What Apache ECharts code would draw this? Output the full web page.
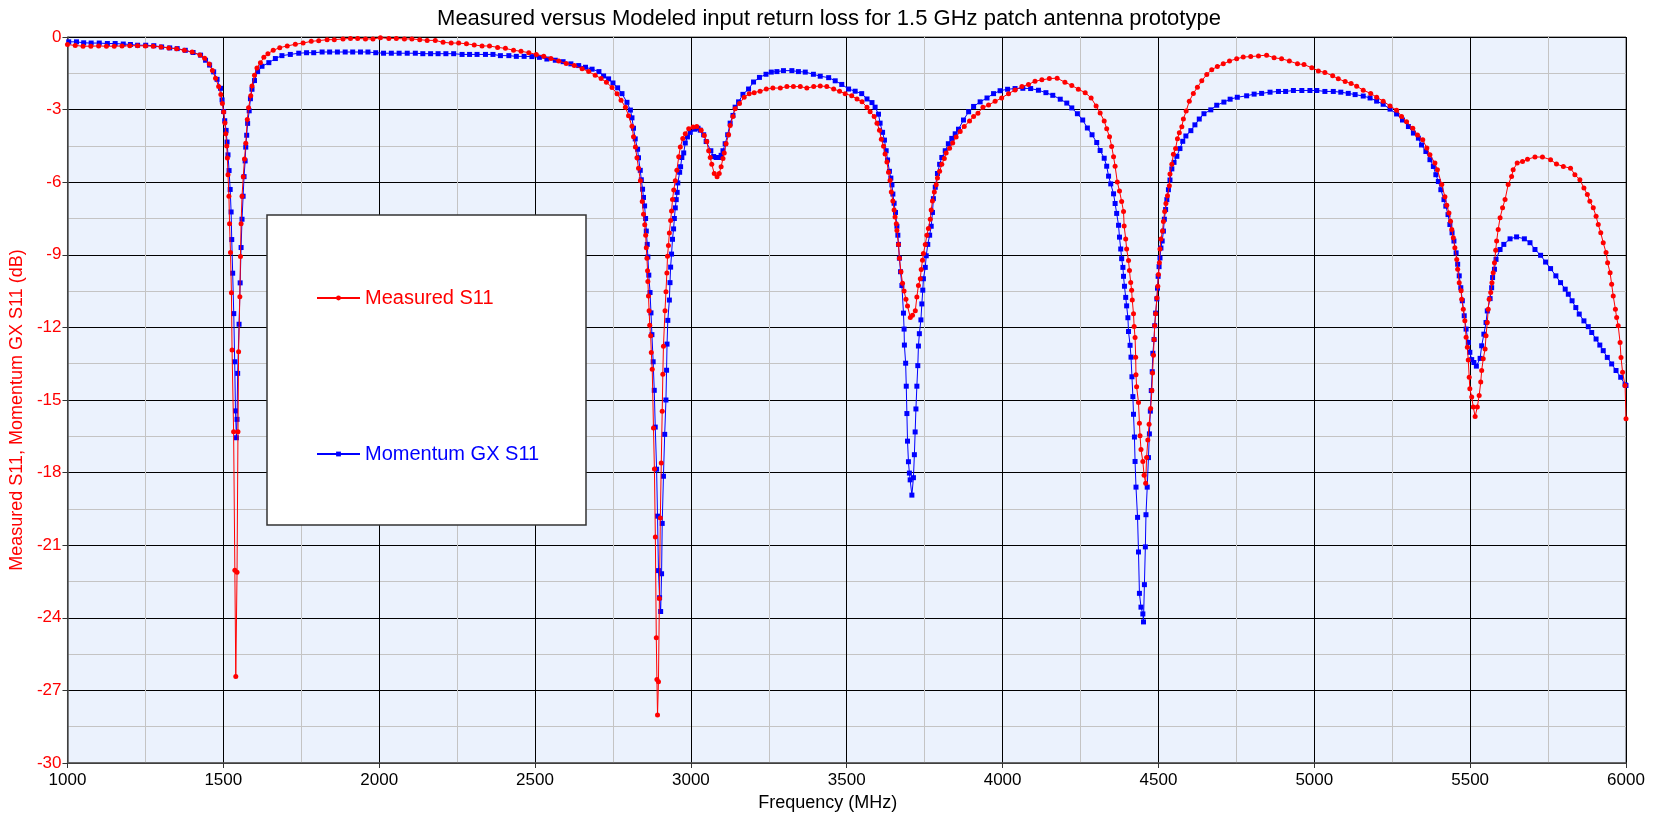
<!DOCTYPE html>
<html>
<head>
<meta charset="utf-8">
<script src="https://cdn.jsdelivr.net/npm/echarts@6/dist/echarts.min.js"></script>
<style>
html,body{margin:0;padding:0;background:#fff;}
#chart{width:1658px;height:817px;}
</style>
</head>
<body>
<div id="chart"></div>
<script>
// ---------- DATA ----------
const titleText = 'Measured versus Modeled input return loss for 1.5 GHz patch antenna prototype';
const xAxisName = 'Frequency (MHz)';
const yAxisName = 'Measured S11, Momentum GX S11 (dB)';
const seriesNames = ['Measured S11', 'Momentum GX S11'];

const measuredFreq = [
1000,1025,1050,1075,1100,1125,1150,1175,1200,1225,1250,1275,1300,1325,1350,1375,1400,1425,1440,1455,
1465,1475,1485,1492,1497,1501,1505,1508,1511,1513,1515,1518,1520,1523,1526,1528,1533,1537,1540,1544,
1547,1549,1553,1555,1557,1560,1564,1568,1572,1577,1581,1588,1592,1600,1608,1619,1630,1643,1660,1681,
1705,1731,1756,1782,1806,1833,1856,1884,1908,1931,1956,1980,2004,2031,2055,2081,2105,2130,2154,2180,
2205,2231,2255,2280,2305,2330,2354,2380,2405,2431,2455,2480,2504,2528,2551,2576,2600,2626,2651,2672,
2693,2712,2729,2747,2763,2776,2790,2800,2811,2816,2822,2827,2832,2838,2844,2848,2852,2855,2857,2859,
2861,2862,2864,2866,2868,2871,2873,2876,2880,2883,2886,2889,2891,2893,2896,2899,2902,2905,2908,2910,
2912,2917,2920,2923,2925,2928,2931,2935,2938,2941,2945,2950,2955,2961,2966,2974,2982,2993,3007,3019,
3033,3043,3051,3057,3062,3067,3075,3084,3091,3097,3103,3107,3113,3121,3126,3135,3142,3156,3171,3187,
3203,3222,3242,3263,3287,3308,3329,3351,3372,3394,3415,3436,3458,3477,3495,3516,3533,3549,3565,3575,
3588,3597,3605,3611,3618,3623,3629,3634,3639,3643,3648,3652,3655,3659,3661,3666,3669,3674,3679,3684,
3690,3695,3704,3711,3720,3725,3730,3736,3739,3743,3746,3752,3757,3762,3768,3771,3775,3781,3787,3791,
3798,3805,3813,3819,3830,3840,3851,3864,3877,3894,3907,3921,3937,3955,3976,3997,4019,4040,4062,4083,
4104,4126,4150,4175,4200,4222,4243,4265,4284,4300,4313,4326,4334,4343,4350,4356,4361,4368,4375,4382,
4388,4390,4395,4398,4404,4407,4411,4414,4416,4420,4422,4425,4427,4428,4430,4436,4439,4441,4444,4450,
4454,4459,4462,4466,4470,4475,4479,4481,4484,4486,4488,4491,4495,4498,4500,4503,4505,4508,4513,4516,
4520,4524,4529,4535,4537,4543,4548,4555,4561,4567,4575,4580,4589,4599,4612,4625,4639,4655,4671,4689,
4708,4728,4751,4772,4796,4821,4847,4871,4895,4920,4946,4967,4992,5013,5034,5059,5077,5099,5118,5136,
5157,5181,5200,5221,5243,5264,5280,5296,5316,5331,5348,5361,5371,5387,5395,5409,5419,5425,5432,5437,
5441,5446,5451,5457,5460,5465,5471,5473,5478,5483,5487,5491,5494,5497,5499,5505,5510,5516,5523,5529,
5534,5537,5542,5548,5551,5555,5558,5561,5566,5570,5574,5578,5582,5585,5590,5596,5604,5612,5622,5633,
5638,5651,5668,5684,5708,5732,5758,5777,5799,5822,5836,5852,5865,5876,5884,5895,5904,5911,5919,5927,
5936,5941,5949,5954,5959,5966,5970,5975,5981,5984,5989,5997,6000
];
const measuredDb = [
-0.31,-0.35,-0.38,-0.38,-0.37,-0.38,-0.38,-0.37,-0.36,-0.36,-0.37,-0.38,-0.41,-0.45,-0.49,-0.55,-0.62,-0.74,-0.88,-1.12,
-1.38,-1.70,-2.05,-2.38,-2.75,-3.10,-3.55,-4.00,-4.50,-5.00,-5.69,-6.58,-7.72,-8.91,-10.57,-12.93,-16.31,-22.04,-26.43,-22.12,
-16.31,-13.01,-10.73,-9.07,-7.72,-6.58,-5.77,-5.04,-4.39,-3.41,-2.92,-2.43,-2.02,-1.58,-1.28,-1.06,-0.84,-0.69,-0.55,-0.44,
-0.37,-0.30,-0.25,-0.18,-0.15,-0.11,-0.11,-0.08,-0.06,-0.06,-0.08,-0.08,-0.03,-0.06,-0.06,-0.08,-0.08,-0.11,-0.14,-0.14,
-0.22,-0.25,-0.25,-0.28,-0.33,-0.37,-0.37,-0.43,-0.47,-0.55,-0.59,-0.65,-0.72,-0.80,-0.89,-0.99,-1.09,-1.18,-1.31,-1.43,
-1.58,-1.72,-1.87,-2.09,-2.34,-2.61,-2.90,-3.25,-3.69,-4.12,-4.55,-4.99,-5.42,-5.94,-6.80,-7.32,-7.76,-8.19,-8.71,-9.14,
-9.66,-10.10,-10.70,-11.31,-11.91,-12.35,-13.04,-13.73,-16.16,-17.85,-20.66,-24.82,-26.55,-28.02,-26.64,-23.20,-19.88,-17.60,-15.46,-13.94,
-12.78,-11.31,-10.53,-9.75,-9.06,-8.62,-8.10,-7.58,-7.19,-6.72,-6.32,-5.94,-5.51,-4.95,-4.55,-4.19,-4.00,-3.79,-3.72,-3.70,
-3.85,-4.07,-4.32,-4.70,-4.98,-5.26,-5.64,-5.77,-5.64,-5.36,-5.02,-4.79,-4.41,-4.04,-3.66,-3.28,-2.96,-2.75,-2.49,-2.34,
-2.30,-2.24,-2.15,-2.11,-2.11,-2.05,-2.05,-2.05,-2.11,-2.05,-2.02,-2.05,-2.15,-2.24,-2.34,-2.43,-2.56,-2.68,-2.90,-3.09,
-3.28,-3.56,-3.85,-4.23,-4.51,-4.83,-5.17,-5.59,-5.93,-6.40,-6.78,-7.15,-7.44,-7.72,-8.00,-8.57,-9.14,-9.70,-10.18,-10.50,
-10.84,-11.12,-11.59,-11.50,-11.31,-10.74,-10.27,-9.99,-9.61,-9.23,-8.95,-8.57,-8.19,-7.91,-7.53,-7.15,-6.78,-6.40,-6.11,-5.83,
-5.55,-5.26,-5.02,-4.79,-4.60,-4.38,-4.13,-3.90,-3.70,-3.47,-3.28,-3.15,-2.90,-2.81,-2.66,-2.52,-2.34,-2.19,-2.05,-1.96,
-1.83,-1.77,-1.72,-1.70,-1.87,-2.00,-2.16,-2.30,-2.52,-2.85,-3.14,-3.47,-3.79,-4.12,-4.52,-4.95,-5.34,-5.99,-6.36,-6.80,
-7.21,-7.81,-8.35,-8.76,-9.24,-9.65,-10.14,-10.46,-10.87,-11.44,-11.96,-12.42,-13.23,-13.96,-14.45,-15.10,-15.96,-16.48,-17.05,-17.54,
-18.11,-18.44,-17.38,-16.65,-16.00,-15.35,-14.61,-13.88,-13.15,-12.50,-11.93,-11.44,-10.79,-10.30,-9.81,-9.33,-8.76,-8.35,-8.02,-7.62,
-7.21,-6.88,-6.56,-6.15,-5.66,-5.26,-4.85,-4.61,-4.20,-3.96,-3.71,-3.39,-3.06,-2.65,-2.33,-2.08,-1.81,-1.55,-1.35,-1.22,
-1.11,-0.99,-0.90,-0.83,-0.81,-0.78,-0.75,-0.86,-0.90,-0.99,-1.11,-1.14,-1.27,-1.40,-1.47,-1.60,-1.73,-1.84,-1.92,-2.03,
-2.20,-2.33,-2.49,-2.65,-2.85,-3.03,-3.28,-3.50,-3.77,-4.05,-4.25,-4.59,-4.87,-5.21,-5.49,-6.10,-6.60,-6.95,-7.27,-7.61,
-7.95,-8.30,-8.71,-9.19,-9.60,-10.15,-10.49,-10.84,-11.25,-11.73,-12.41,-12.82,-13.35,-14.06,-14.54,-14.88,-15.29,-15.68,-15.29,-14.81,
-14.26,-13.78,-13.30,-12.89,-12.34,-11.80,-11.25,-10.84,-10.56,-10.15,-9.74,-9.33,-8.81,-8.43,-7.95,-7.47,-7.06,-6.72,-6.10,-5.76,
-5.49,-5.21,-5.14,-5.05,-4.96,-4.96,-5.07,-5.25,-5.35,-5.42,-5.69,-5.90,-6.24,-6.51,-6.79,-7.06,-7.41,-7.75,-8.09,-8.50,
-8.91,-9.33,-9.74,-10.22,-10.70,-11.25,-11.59,-11.93,-12.62,-13.24,-13.85,-14.40,-15.77
];

const modelFreq = [
1004,1029,1052,1076,1102,1128,1153,1179,1202,1225,1251,1277,1302,1328,1352,1378,1403,1427,1443,1456,
1469,1480,1491,1496,1501,1504.5,1509,1512,1515,1518.5,1522,1525,1527,1530,1533.5,1536.5,1539,1542,1544,1546,
1550.5,1554,1557,1560,1563.5,1566.5,1570,1572,1575,1578,1583,1587,1592,1600,1610,1624,1646,1667,1688,1715,
1742,1767,1790,1817,1841,1866,1891,1915,1940,1964,1989,2014,2039,2064,2090,2116,2140,2165,2189,2214,
2239,2266,2290,2314,2341,2365,2389,2416,2440,2465,2490,2514,2538,2565,2590,2615,2640,2662,2683,2705,
2720,2736,2750,2765,2779,2795,2806,2811,2816,2821.5,2829,2832,2837.6,2841,2845,2848,2851.5,2854.7,2857,2860,
2862,2865,2869,2872,2875,2879,2882.5,2885.7,2890,2893,2896,2899.6,2903,2906,2908,2912,2916,2920,2922,2923.5,
2926,2931,2933,2935,2938,2941,2944.5,2947,2950,2953,2956,2958,2964,2967,2971,2977,2982,2989,2998,3012,
3023,3030,3041,3049,3064,3073,3081,3089,3097,3103,3110,3118,3126,3135,3142,3153,3167,3185,3201,3220,
3241,3258,3276,3297,3324,3345,3367,3393,3415,3442,3463,3484,3506,3527,3548,3565,3581,3591,3602,3607,
3615,3621,3626.5,3631,3637,3641.5,3645,3648,3652,3656.5,3661,3664,3666,3669,3672.5,3677,3682,3684,3685,3689,
3691,3693,3695,3698,3701,3703.5,3709,3714,3717,3719.5,3722,3725,3728,3730,3733,3738,3741,3744,3746,3752,
3755,3760,3766,3771,3775,3778,3784,3791,3798,3805,3816,3826,3837,3848,3858.5,3874.5,3891,3907,3928,3950,
3971,3992,4016,4040,4065,4090,4115,4139,4161,4185,4206,4222,4240,4257,4272,4287,4302,4313,4326,4334,
4340,4347,4356,4361,4366,4372,4375,4379,4382,4386,4388,4391,4395,4398,4402,4404,4409,4412,4415,4418,
4420,4423,4425,4428,4433,4436,4439,4444,4450,4452,4455,4458,4460,4464,4468,4471,4474,4477,4480,4482,
4486,4488,4491,4495,4497,4499,4502,4505,4508,4512,4516,4519,4523,4527,4532,4537,4543,4550,4559,4569,
4578,4588,4604,4617,4631,4646,4668,4687,4710,4730,4753,4783,4807,4831,4858,4885,4908,4933,4960,4986,
5008,5034,5061,5085,5109,5131,5157,5179,5200,5221,5243,5264,5283,5302,5318,5334,5344,5358,5371,5382,
5390,5398,5406,5416,5422,5429,5435,5442,5448,5455,5460,5465,5470,5475,5481,5487,5494,5499,5505,5512,
5520,5532,5537,5544,5551,5555,5564,5569,5572,5578,5583,5596,5608,5628,5649,5674,5692,5708,5726,5742,
5758,5775,5790,5805,5815,5827,5839,5850,5865,5879,5890,5904,5916,5927,5940,5954,5968,5983,5997,6000
];
const modelDb = [
-0.20,-0.20,-0.24,-0.25,-0.25,-0.27,-0.27,-0.29,-0.31,-0.34,-0.34,-0.36,-0.41,-0.45,-0.48,-0.55,-0.64,-0.75,-0.96,-1.16,
-1.44,-1.75,-2.12,-2.60,-3.08,-3.46,-3.86,-4.34,-4.87,-5.52,-6.30,-7.23,-8.37,-9.76,-11.43,-13.42,-15.45,-16.56,-15.80,-13.90,
-11.87,-10.16,-8.70,-7.53,-6.58,-5.77,-5.12,-4.55,-4.06,-3.57,-3.05,-2.55,-2.16,-1.80,-1.43,-1.21,-1.06,-0.89,-0.77,-0.72,
-0.67,-0.65,-0.65,-0.62,-0.62,-0.62,-0.62,-0.62,-0.62,-0.62,-0.65,-0.67,-0.67,-0.67,-0.67,-0.67,-0.69,-0.69,-0.69,-0.69,
-0.69,-0.72,-0.72,-0.72,-0.72,-0.72,-0.77,-0.77,-0.80,-0.80,-0.81,-0.84,-0.91,-0.96,-1.02,-1.11,-1.18,-1.25,-1.33,-1.43,
-1.61,-1.73,-1.90,-2.10,-2.34,-2.70,-3.02,-3.34,-3.77,-4.21,-4.64,-4.99,-5.51,-5.90,-6.29,-6.63,-6.98,-7.50,-8.02,-8.57,
-9.09,-9.84,-10.56,-11.40,-12.30,-13.42,-14.60,-16.12,-17.86,-19.80,-22.05,-23.17,-23.74,-22.18,-20.10,-18.15,-16.42,-15.00,-13.77,-12.69,
-11.71,-10.87,-10.15,-9.51,-8.97,-8.36,-7.93,-7.50,-7.06,-6.72,-6.42,-6.03,-5.59,-5.36,-4.98,-4.79,-4.38,-4.13,-3.94,-3.81,
-3.77,-3.85,-4.04,-4.32,-4.70,-4.94,-4.98,-4.98,-4.89,-4.70,-4.41,-4.04,-3.56,-3.24,-2.90,-2.68,-2.37,-2.15,-1.86,-1.67,
-1.54,-1.45,-1.43,-1.39,-1.39,-1.43,-1.45,-1.54,-1.62,-1.68,-1.81,-1.96,-2.15,-2.24,-2.34,-2.56,-2.71,-2.90,-3.19,-3.56,
-3.94,-4.26,-4.70,-5.08,-5.55,-5.83,-6.11,-6.49,-6.87,-7.25,-7.82,-8.19,-8.57,-9.14,-9.70,-10.27,-11.41,-12.07,-12.73,-13.48,
-14.43,-15.56,-16.70,-17.55,-18.02,-18.30,-18.93,-18.21,-17.26,-16.32,-15.37,-14.43,-13.58,-12.77,-12.26,-11.69,-11.03,-10.46,-9.99,-9.52,
-9.04,-8.57,-8.19,-7.82,-7.25,-6.68,-6.21,-5.64,-5.26,-4.98,-4.70,-4.41,-4.19,-4.00,-3.81,-3.43,-3.09,-2.87,-2.68,-2.52,
-2.34,-2.22,-2.16,-2.13,-2.12,-2.13,-2.20,-2.30,-2.41,-2.57,-2.73,-2.93,-3.17,-3.43,-3.76,-4.04,-4.36,-4.69,-5.01,-5.34,
-5.75,-6.07,-6.48,-6.88,-7.29,-7.78,-8.27,-8.76,-9.16,-9.52,-9.89,-10.30,-10.76,-11.11,-11.60,-12.17,-12.74,-13.23,-14.04,-14.86,
-15.59,-16.53,-17.54,-18.60,-19.85,-21.28,-22.99,-23.56,-23.84,-24.17,-22.63,-21.07,-19.74,-18.60,-17.38,-16.40,-15.46,-14.61,-13.83,-13.07,
-12.50,-11.93,-11.41,-10.82,-10.38,-9.89,-9.49,-9.13,-8.72,-8.43,-8.02,-7.53,-7.13,-6.72,-6.31,-5.91,-5.45,-5.18,-4.93,-4.61,
-4.31,-4.09,-3.87,-3.63,-3.39,-3.17,-3.01,-2.82,-2.69,-2.57,-2.49,-2.43,-2.36,-2.33,-2.28,-2.25,-2.25,-2.21,-2.21,-2.21,
-2.21,-2.25,-2.25,-2.28,-2.33,-2.38,-2.44,-2.52,-2.65,-2.78,-2.98,-3.18,-3.43,-3.70,-3.97,-4.18,-4.46,-4.73,-5.07,-5.35,
-5.69,-5.97,-6.31,-6.72,-6.99,-7.34,-7.75,-8.09,-8.43,-8.92,-9.39,-9.87,-10.36,-10.90,-11.52,-12.07,-12.62,-13.03,-13.33,-13.45,
-13.60,-13.28,-12.76,-12.28,-11.80,-11.32,-10.81,-10.36,-9.94,-9.60,-9.19,-8.78,-8.57,-8.34,-8.26,-8.34,-8.50,-8.78,-9.02,-9.30,
-9.57,-9.87,-10.15,-10.42,-10.63,-10.90,-11.18,-11.45,-11.73,-11.97,-12.21,-12.48,-12.73,-12.96,-13.24,-13.51,-13.78,-14.06,-14.37,-14.40
];

// ---------- CHART ----------
function pairs(xs, ys) {
  const n = Math.min(xs.length, ys.length);
  const out = [];
  for (let i = 0; i < n; i++) out.push([xs[i], ys[i]]);
  return out;
}

const FONT = '"Liberation Sans", Arial, sans-serif';
const chart = echarts.init(document.getElementById('chart'), null, { renderer: 'canvas' });

chart.setOption({
  animation: false,
  backgroundColor: '#ffffff',
  title: {
    text: titleText,
    left: 'center',
    top: 3,
    textStyle: { fontFamily: FONT, fontSize: 22, fontWeight: 'normal', color: '#000' }
  },
  graphic: [{
    type: 'rect',
    z: 3,
    shape: { x: 267, y: 215, width: 319, height: 310 },
    style: { fill: '#ffffff', stroke: '#333333', lineWidth: 1.5 }
  }],
  legend: {
    orient: 'vertical',
    left: 311,
    top: 282,
    itemGap: 134,
    itemWidth: 43,
    itemHeight: 6,
    z: 5,
    textStyle: { fontFamily: FONT, fontSize: 20, lineHeight: 22 },
    data: [
      { name: seriesNames[0], textStyle: { color: '#ff0000' } },
      { name: seriesNames[1], textStyle: { color: '#0000ff' } }
    ]
  },
  grid: {
    left: 67, right: 32, top: 37, bottom: 51,
    show: true,
    backgroundColor: '#EBF2FD',
    borderColor: '#555555',
    borderWidth: 1
  },
  xAxis: {
    type: 'value',
    min: 1000, max: 6000, interval: 500,
    name: xAxisName,
    nameLocation: 'middle',
    nameGap: 31,
    nameTextStyle: { fontFamily: FONT, fontSize: 18, color: '#000', padding: [0, 38, 0, 0] },
    axisLine: { show: true, onZero: false, lineStyle: { color: '#555555', width: 1.5 } },
    axisTick: { show: true, length: 5, lineStyle: { color: '#333' } },
    axisLabel: { fontFamily: FONT, fontSize: 17, color: '#000', margin: 9, formatter: function (v) { return String(v); } },
    splitLine: { show: true, lineStyle: { color: '#000000', width: 1 } },
    minorTick: { show: false, splitNumber: 2 },
    minorSplitLine: { show: true, lineStyle: { color: '#c4c4c4', width: 1 } }
  },
  yAxis: {
    type: 'value',
    min: -30, max: 0, interval: 3,
    name: yAxisName,
    nameLocation: 'middle',
    nameGap: 40,
    nameRotate: 90,
    nameTextStyle: { fontFamily: FONT, fontSize: 18, color: '#ff0000', padding: [0, 20, 0, 0] },
    axisLine: { show: true, onZero: false, lineStyle: { color: '#555555', width: 1.5 } },
    axisTick: { show: true, length: 5, lineStyle: { color: '#333' } },
    axisLabel: { fontFamily: FONT, fontSize: 17, color: '#ff0000', margin: 6, formatter: function (v) { return String(v); } },
    splitLine: { show: true, lineStyle: { color: '#000000', width: 1 } },
    minorTick: { show: false, splitNumber: 2 },
    minorSplitLine: { show: true, lineStyle: { color: '#c4c4c4', width: 1 } }
  },
  series: [
    {
      name: seriesNames[0],
      type: 'line',
      data: pairs(measuredFreq, measuredDb),
      showAllSymbol: true,
      symbol: 'circle',
      symbolSize: 5,
      color: '#ff0000',
      lineStyle: { color: '#ff0000', width: 1 },
      itemStyle: { color: '#ff0000' },
      z: 3
    },
    {
      name: seriesNames[1],
      type: 'line',
      data: pairs(modelFreq, modelDb),
      showAllSymbol: true,
      symbol: 'rect',
      symbolSize: 5,
      color: '#0000ff',
      lineStyle: { color: '#0000ff', width: 1 },
      itemStyle: { color: '#0000ff' },
      z: 2
    }
  ]
});
</script>
</body>
</html>
